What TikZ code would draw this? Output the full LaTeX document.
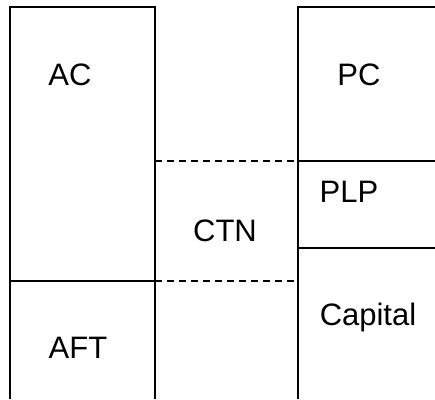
\documentclass[tikz,border=0pt]{standalone}
\usepackage{fontspec}
\setmainfont{Liberation Sans}
\begin{document}
\begin{tikzpicture}[x=1pt,y=-1pt,
  solidline/.style={line width=1.5pt,black},
  dashline/.style={line width=1.3pt,black,dash pattern=on 7pt off 5pt},
  lbl/.style={anchor=base,inner sep=0pt,font=\fontsize{31}{36}\selectfont}]
\useasboundingbox[fill=white] (0,0) rectangle (435,399);
% left column
\coordinate (lb1) at (10,399);
\coordinate (lt1) at (10,7);
\coordinate (lt2) at (155,7);
\coordinate (lb2) at (155,399);
\draw[solidline] (lb1) -- (lt1) -- (lt2) -- (lb2);
\coordinate (lm1) at (10,281);
\coordinate (lm2) at (155,281);
\draw[solidline] (lm1) -- (lm2);
% right column
\coordinate (rt2) at (436,7);
\coordinate (rt1) at (298,7);
\coordinate (rb1) at (298,399);
\draw[solidline] (rt2) -- (rt1) -- (rb1);
\coordinate (ra1) at (298,161);
\coordinate (ra2) at (436,161);
\coordinate (rc1) at (298,248);
\coordinate (rc2) at (436,248);
\draw[solidline] (ra1) -- (ra2);
\draw[solidline] (rc1) -- (rc2);
% dashed connectors
\coordinate (la) at (155,161);
\draw[dashline] (la) -- (ra1);
\coordinate (rm) at (298,281);
\draw[dashline] (lm2) -- (rm);
% labels
\node[lbl] (ac) at (70,85) {AC};
\node[lbl] (aft) at (78,358) {AFT};
\node[lbl] (ctn) at (225,241.5) {CTN};
\node[lbl] (pc) at (359,85) {PC};
\node[lbl] (plp) at (349,202.5) {PLP};
\node[lbl] (cap) at (368,325) {Capital};
\end{tikzpicture}
\end{document}
